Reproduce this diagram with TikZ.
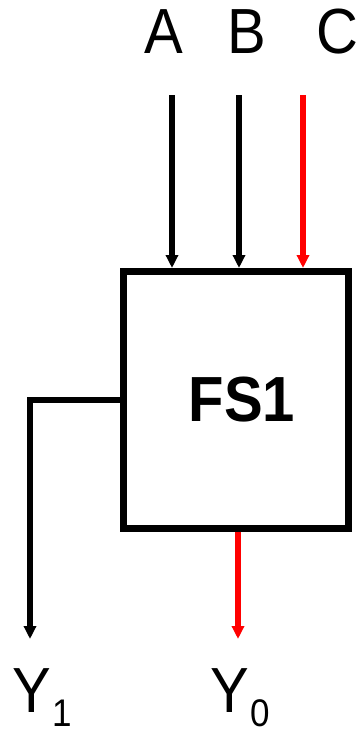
\documentclass[tikz,border=0pt]{standalone}
\usepackage{fontspec}
\setmainfont{Liberation Sans}
\usetikzlibrary{arrows.meta}
\begin{document}
\begin{tikzpicture}[x=1pt,y=-1pt,
  lbl/.style={inner sep=0pt,font=\fontsize{58}{60}\selectfont,yscale=1.1},
  wire/.style={line width=5.3pt,-{Triangle[width=12pt,length=13pt]}},
  redwire/.style={wire,red},
  box/.style={draw,line width=7pt,minimum width=225pt,minimum height=256.5pt,inner sep=0pt}]
\useasboundingbox (0,0) rectangle (360,731);
\node[box] (fs) at (236,399.75) {};
\node[inner sep=0pt,font=\fontsize{58}{60}\selectfont\bfseries,yscale=1.1] (t) at (242,400) {FS1};
\node[lbl] (A) at (164,32) {A};
\node[lbl] (B) at (247,32) {B};
\node[lbl] (C) at (337,32) {C};
\coordinate (a0) at (172,95);
\coordinate (b0) at (239,95);
\coordinate (c0) at (303,95);
\draw[wire] (a0) -- (a0 |- fs.north);
\draw[wire] (b0) -- (b0 |- fs.north);
\draw[redwire] (c0) -- (c0 |- fs.north);
\coordinate (y1k) at (30,400);
\coordinate (y1e) at (30,639);
\coordinate (y0e) at (238,639);
\draw[wire] (fs.west |- y1k) -- (y1k) -- (y1e);
\draw[redwire] (y0e |- fs.south) -- (y0e);
\node[lbl,anchor=base west] (Y1) at (12,712) {Y\hspace{2pt}\raisebox{-13.5pt}{\fontsize{35}{37}\selectfont 1}};
\node[lbl,anchor=base west] (Y0) at (210,712) {Y\hspace{2pt}\raisebox{-13.5pt}{\fontsize{35}{37}\selectfont 0}};
\end{tikzpicture}
\end{document}
